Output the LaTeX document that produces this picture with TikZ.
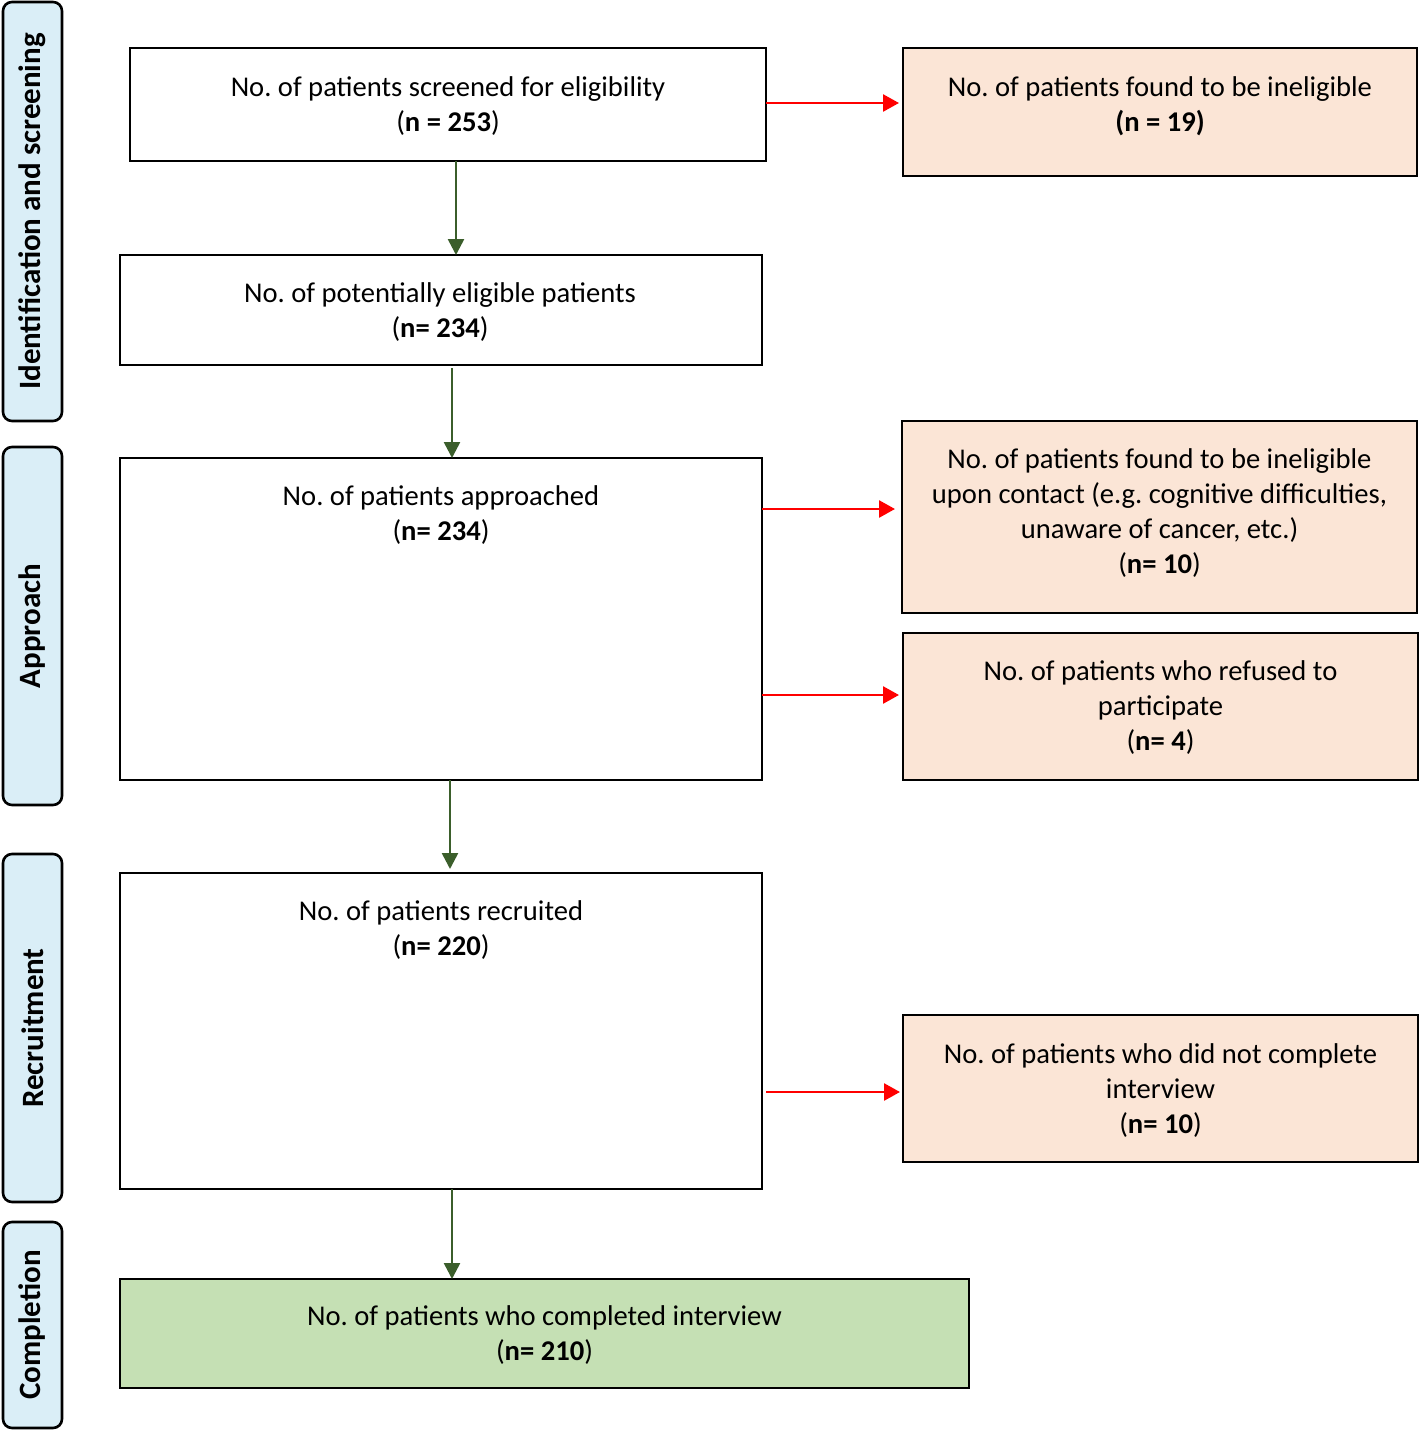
\documentclass[tikz,border=0pt]{standalone}
\usepackage{fontspec}
\setmainfont{Carlito}
\usetikzlibrary{arrows.meta}
\frenchspacing
\definecolor{sideblue}{HTML}{DAEEF7}
\definecolor{peach}{HTML}{FBE5D6}
\definecolor{lgreen}{HTML}{C5E0B4}
\definecolor{dgreen}{HTML}{3B5E2B}
\definecolor{ared}{HTML}{FF0000}
\tikzset{
  every node/.style={font=\fontsize{28.6}{35}\selectfont, inner sep=0pt, outer sep=0pt},
  box/.style={draw=black, line width=2.6pt, fill=white, anchor=north west},
  rbox/.style={box, fill=peach},
  gbox/.style={box, fill=lgreen},
  side/.style={draw=black, line width=2.6pt, fill=sideblue, rounded corners=9pt, anchor=north west},
  sidetext/.style={rotate=90, font=\fontsize{31}{35}\selectfont\bfseries},
  txt/.style={align=center},
  garrow/.style={draw=dgreen, line width=2.6pt, -{Triangle[length=16pt,width=16pt]}},
  rarrow/.style={draw=ared, line width=2.6pt, -{Triangle[length=16pt,width=17pt]}},
}
\begin{document}
\begin{tikzpicture}[x=1pt,y=-1pt]
\useasboundingbox (0,0) rectangle (1420,1430);
% side labels
\node[side, minimum width=59pt, minimum height=419pt] (s1) at (3,2) {};
\node[sidetext] (s1t) at (s1.center) {Identification and screening};
\node[side, minimum width=59pt, minimum height=358pt] (s2) at (3,447) {};
\node[sidetext] (s2t) at (s2.center) {Approach};
\node[side, minimum width=59pt, minimum height=348pt] (s3) at (3,854) {};
\node[sidetext] (s3t) at (s3.center) {Recruitment};
\node[side, minimum width=59pt, minimum height=206pt] (s4) at (3,1222) {};
\node[sidetext] (s4t) at (s4.center) {Completion};
% main boxes
\node[box, minimum width=636pt, minimum height=113pt] (b1) at (130,48) {};
\node[txt] (b1t) at ([yshift=-2pt]b1.center) {No. of patients screened for eligibility\\(\textbf{n = 253})};
\node[box, minimum width=642pt, minimum height=110pt] (b2) at (120,255) {};
\node[txt] (b2t) at ([xshift=-1pt,yshift=-2pt]b2.center) {No. of potentially eligible patients\\(\textbf{n= 234})};
\node[box, minimum width=642pt, minimum height=322pt] (b3) at (120,458) {};
\node[txt, anchor=north] (b3t) at ([yshift=-28pt]b3.north) {No. of patients approached\\(\textbf{n= 234})};
\node[box, minimum width=642pt, minimum height=316pt] (b4) at (120,873) {};
\node[txt, anchor=north] (b4t) at ([yshift=-28pt]b4.north) {No. of patients recruited\\(\textbf{n= 220})};
\node[gbox, minimum width=849pt, minimum height=109pt] (b5) at (120,1279) {};
\node[txt] (b5t) at ([yshift=-2pt]b5.center) {No. of patients who completed interview\\(\textbf{n= 210})};
% right boxes
\node[rbox, minimum width=514pt, minimum height=128pt] (r1) at (903,48) {};
\node[txt, anchor=north] (r1t) at ([yshift=-29pt]r1.north) {No. of patients found to be ineligible\\\textbf{(n = 19)}};
\node[rbox, minimum width=515pt, minimum height=192pt] (r2) at (902,421) {};
\node[txt] (r2t) at ([yshift=4pt]r2.center) {No. of patients found to be ineligible\\upon contact (e.g. cognitive difficulties,\\unaware of cancer, etc.)\\(\textbf{n= 10})};
\node[rbox, minimum width=515pt, minimum height=147pt] (r3) at (903,633) {};
\node[txt] (r3t) at ([yshift=-1pt]r3.center) {No. of patients who refused to\\participate\\(\textbf{n= 4})};
\node[rbox, minimum width=515pt, minimum height=147pt] (r4) at (903,1015) {};
\node[txt] (r4t) at ([yshift=-2pt]r4.center) {No. of patients who did not complete\\interview\\(\textbf{n= 10})};
% coordinates for arrows
\coordinate (a1s) at (456,161);
\coordinate (a1e) at (456,255);
\coordinate (a2s) at (452,368);
\coordinate (a2e) at (452,458);
\coordinate (a3s) at (450,780);
\coordinate (a3e) at (450,869);
\coordinate (a4s) at (452,1189);
\coordinate (a4e) at (452,1279);
\draw[garrow] (a1s) -- (a1e);
\draw[garrow] (a2s) -- (a2e);
\draw[garrow] (a3s) -- (a3e);
\draw[garrow] (a4s) -- (a4e);
\coordinate (c1) at (899,103);
\coordinate (c2) at (895,509);
\coordinate (c3) at (899,695);
\coordinate (c4s) at (766,1092);
\coordinate (c4) at (900,1092);
\draw[rarrow] (b1.east |- c1) -- (c1);
\draw[rarrow] (b3.east |- c2) -- (c2);
\draw[rarrow] (b3.east |- c3) -- (c3);
\draw[rarrow] (c4s) -- (c4);
\end{tikzpicture}
\end{document}
